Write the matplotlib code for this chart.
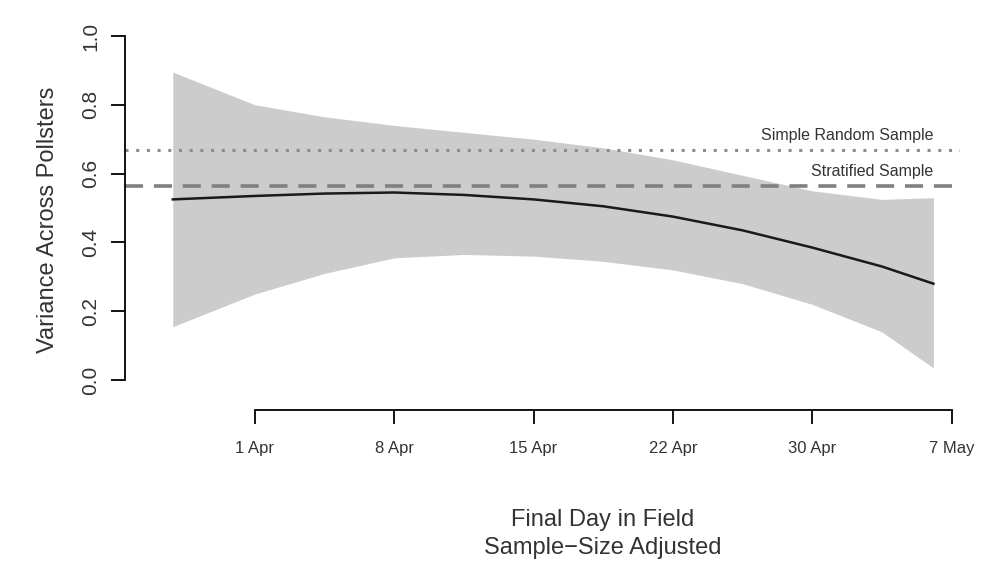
import matplotlib
matplotlib.use('Agg')
import matplotlib.pyplot as plt

plt.rcParams['font.family'] = ['Liberation Sans', 'DejaVu Sans']

# x in tick-index units (0 = 1 Apr, 5 = 7 May)
day_pos = [-0.59, 0, 0.5, 1, 1.5, 2, 2.5, 3, 3.5, 4, 4.5, 4.87]
variance = [0.525, 0.535, 0.542, 0.545, 0.538, 0.525, 0.505, 0.475, 0.435, 0.385, 0.33, 0.28]
upper = [0.895, 0.80, 0.765, 0.74, 0.72, 0.70, 0.675, 0.64, 0.595, 0.55, 0.525, 0.53]
lower = [0.155, 0.25, 0.31, 0.355, 0.365, 0.36, 0.345, 0.32, 0.28, 0.22, 0.14, 0.035]
tick_labels = ['1 Apr', '8 Apr', '15 Apr', '22 Apr', '30 Apr', '7 May']
srs_level = 0.67
strat_level = 0.565

fig = plt.figure(figsize=(9.84, 5.63), dpi=100)
ax = fig.add_axes([125 / 984, (563 - 410) / 563, 835 / 984, 380 / 563])
ax.set_xlim(-0.933, 5.061)
ax.set_ylim(-0.0872, 1.0174)

ax.fill_between(day_pos, lower, upper, color='#cccccc', linewidth=0)
ax.plot(day_pos, variance, color='#1a1a1a', linewidth=1.8)
ax.axhline(srs_level, color='#8c8c8c', linestyle=(0, (1, 2.5)), linewidth=2.2)
ax.axhline(strat_level, color='#808080', linestyle=(0, (5, 3)), linewidth=2.6)
ax.text(4.87, srs_level + 0.02, 'Simple Random Sample', ha='right', va='bottom', fontsize=11.5, color='#333333')
ax.text(4.87, strat_level + 0.02, 'Stratified Sample', ha='right', va='bottom', fontsize=11.5, color='#333333')

for s in ['top', 'right']:
    ax.spines[s].set_visible(False)
ax.spines['left'].set_bounds(0, 1)
ax.spines['bottom'].set_bounds(0, 5)
ax.spines['left'].set_linewidth(1.3)
ax.spines['bottom'].set_linewidth(1.3)

ax.set_yticks([0, 0.2, 0.4, 0.6, 0.8, 1.0])
ax.set_yticklabels(['0.0', '0.2', '0.4', '0.6', '0.8', '1.0'], rotation=90, va='center', fontsize=15, color='#333333')
ax.set_xticks(range(6))
ax.set_xticklabels(tick_labels, fontsize=12, color='#333333')
ax.tick_params(axis='x', length=10, width=1.3, pad=12)
ax.tick_params(axis='y', length=10, width=1.3, pad=8)
ax.set_ylabel('Variance Across Pollsters', fontsize=17, color='#333333', labelpad=16)

fig.text(603 / 984, 1 - 520 / 563, 'Final Day in Field', ha='center', va='center', fontsize=17, color='#333333')
fig.text(603 / 984, 1 - 548 / 563, 'Sample\u2212Size Adjusted', ha='center', va='center', fontsize=17, color='#333333')

fig.savefig('out.png')
